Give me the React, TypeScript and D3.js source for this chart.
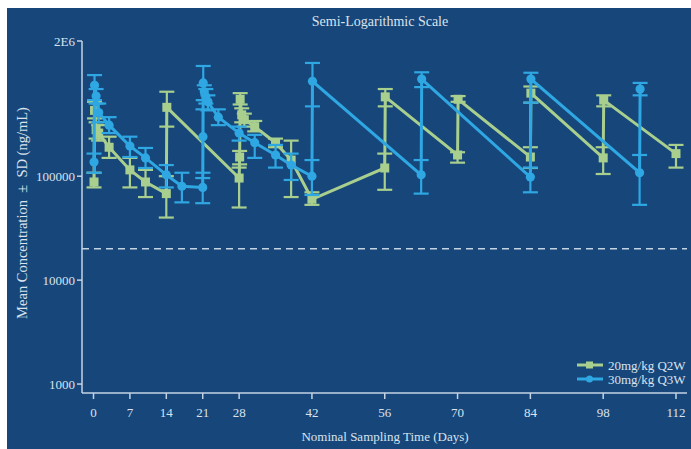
import React from "react";
import * as d3 from "d3";

// ---- data ----
const xTicks = [0, 7, 14, 21, 28, 42, 56, 70, 84, 98, 112];
const yTicks = [1000, 10000, 100000, 2000000];
const yTickLabels = ["1000", "10000", "100000", "2E6"];
const lloq = 20000;

const seriesNames = ["20mg/kg Q2W", "30mg/kg Q3W"];

// 20 mg/kg Q2W
const q2wDays = [0.1, 0.2, 0.5, 1, 3, 7, 10, 14, 14.1, 28, 28.1, 28.2, 28.5, 29, 31, 35, 38, 42, 56, 56.1, 70, 70.1, 84, 84.1, 98, 98.1, 112];
const q2wMean = [88000, 430000, 280000, 260000, 190000, 115000, 88000, 68000, 460000, 96000, 153000, 550000, 390000, 350000, 300000, 210000, 143000, 60000, 120000, 580000, 160000, 550000, 153000, 630000, 150000, 540000, 165000];
const q2wLo = [78000, 360000, 230000, 220000, 150000, 78000, 63000, 40000, 300000, 50000, 130000, 490000, 330000, 300000, 270000, 190000, 63000, 53000, 74000, 470000, 135000, 520000, 120000, 510000, 105000, 470000, 121000];
const q2wHi = [108000, 520000, 330000, 310000, 240000, 150000, 115000, 100000, 650000, 121000, 175000, 630000, 450000, 400000, 340000, 230000, 220000, 70000, 165000, 690000, 170000, 590000, 190000, 730000, 190000, 600000, 200000];

// 30 mg/kg Q3W
const q3wDays = [0.1, 0.2, 0.5, 1, 3, 7, 10, 14, 17, 21, 21.05, 21.1, 21.3, 21.6, 22, 24, 28, 31, 35, 38, 42, 42.1, 63, 63.1, 84, 84.1, 105, 105.1];
const q3wMean = [137000, 750000, 590000, 410000, 310000, 195000, 150000, 103000, 80000, 78000, 240000, 790000, 650000, 580000, 520000, 370000, 260000, 210000, 160000, 128000, 100000, 820000, 103000, 860000, 98000, 860000, 108000, 690000];
const q3wLo = [108000, 540000, 500000, 330000, 260000, 153000, 120000, 78000, 56000, 55000, 108000, 540000, 540000, 500000, 430000, 310000, 220000, 150000, 121000, 92000, 66000, 470000, 68000, 720000, 70000, 510000, 53000, 600000];
const q3wHi = [165000, 940000, 690000, 500000, 370000, 240000, 187000, 128000, 108000, 96000, 440000, 1150000, 750000, 690000, 600000, 440000, 300000, 250000, 200000, 165000, 143000, 1230000, 143000, 1000000, 121000, 990000, 160000, 790000];

const BG = "#17467a";
const TXT = "#d9e3ee";
const AX = "#c3d3e4";
const GREEN = "#a9cf8e";
const BLUE = "#2ea7e2";
const FONT = "'Liberation Serif', 'Times New Roman', serif";

type Pt = { d: number; m: number; lo: number; hi: number };

function zip(days: number[], m: number[], lo: number[], hi: number[]): Pt[] {
  return days.map((d, i) => ({ d, m: m[i], lo: lo[i], hi: hi[i] }));
}

export default function App() {
  const W = 691;
  const H = 449;
  const left = 82;
  const right = 687;
  const top = 41;
  const bottom = 393;

  const x = d3.scaleLinear().domain([0, 112]).range([93.5, 676]);
  const y = d3.scaleLog().domain([820, 2000000]).range([bottom, top]);

  const line = d3
    .line<Pt>()
    .x((p) => x(p.d))
    .y((p) => y(p.m));

  const series = [
    { name: seriesNames[0], color: GREEN, pts: zip(q2wDays, q2wMean, q2wLo, q2wHi), shape: "square" },
    { name: seriesNames[1], color: BLUE, pts: zip(q3wDays, q3wMean, q3wLo, q3wHi), shape: "circle" },
  ];

  const cap = 7.5;

  return (
    <svg width={W} height={H} style={{ position: "absolute", left: 0, top: 0 }} fontFamily={FONT}>
      <rect x={7} y={8} width={W - 7} height={H - 8} fill={BG} />
      <text x={380} y={26} fill={TXT} fontSize={14} textAnchor="middle">
        Semi-Logarithmic Scale
      </text>

      {/* LLOQ dashed line */}
      <line x1={left} x2={right} y1={y(lloq)} y2={y(lloq)} stroke={AX} strokeWidth={1.5} strokeDasharray="7,5" />

      {/* series */}
      {series.map((s) => (
        <g key={s.name}>
          <path d={line(s.pts) || ""} fill="none" stroke={s.color} strokeWidth={3} />
          {s.pts.map((p, i) => (
            <g key={i} stroke={s.color} strokeWidth={2.2}>
              <line x1={x(p.d)} x2={x(p.d)} y1={y(p.lo)} y2={y(p.hi)} />
              <line x1={x(p.d) - cap} x2={x(p.d) + cap} y1={y(p.lo)} y2={y(p.lo)} />
              <line x1={x(p.d) - cap} x2={x(p.d) + cap} y1={y(p.hi)} y2={y(p.hi)} />
            </g>
          ))}
          {s.pts.map((p, i) =>
            s.shape === "square" ? (
              <rect key={"m" + i} x={x(p.d) - 4.5} y={y(p.m) - 4.5} width={9} height={9} fill={s.color} />
            ) : (
              <circle key={"m" + i} cx={x(p.d)} cy={y(p.m)} r={4.6} fill={s.color} />
            )
          )}
        </g>
      ))}

      {/* axes */}
      <line x1={left} x2={left} y1={top} y2={bottom} stroke={AX} strokeWidth={1.5} />
      <line x1={left} x2={right} y1={bottom} y2={bottom} stroke={AX} strokeWidth={1.5} />
      {yTicks.map((t, i) => (
        <g key={t}>
          <line x1={left - 5} x2={left} y1={y(t)} y2={y(t)} stroke={AX} strokeWidth={1.5} />
          <text x={left - 7} y={y(t)} dy="0.35em" fill={TXT} fontSize={13} textAnchor="end">
            {yTickLabels[i]}
          </text>
        </g>
      ))}
      {xTicks.map((t) => (
        <g key={t}>
          <line x1={x(t)} x2={x(t)} y1={bottom} y2={bottom + 6} stroke={AX} strokeWidth={1.5} />
          <text x={x(t)} y={417} fill={TXT} fontSize={13} textAnchor="middle">
            {t}
          </text>
        </g>
      ))}
      <text x={385} y={441} fill={TXT} fontSize={13} textAnchor="middle">
        Nominal Sampling Time (Days)
      </text>
      <text transform={`translate(27,${213}) rotate(-90)`} fill={TXT} fontSize={14.5} textAnchor="middle">
        Mean Concentration {"\u00a0±\u00a0"} SD (ng/mL)
      </text>

      {/* legend */}
      {series.map((s, i) => (
        <g key={"lg" + i} transform={`translate(0,${365 + i * 14})`}>
          <line x1={577} x2={603} y1={0} y2={0} stroke={s.color} strokeWidth={3} />
          {s.shape === "square" ? (
            <rect x={586} y={-3.5} width={7} height={7} fill={s.color} />
          ) : (
            <circle cx={589.5} cy={0} r={3.5} fill={s.color} />
          )}
          <text x={608} y={0} dy="0.35em" fill={TXT} fontSize={13}>
            {s.name}
          </text>
        </g>
      ))}
    </svg>
  );
}
